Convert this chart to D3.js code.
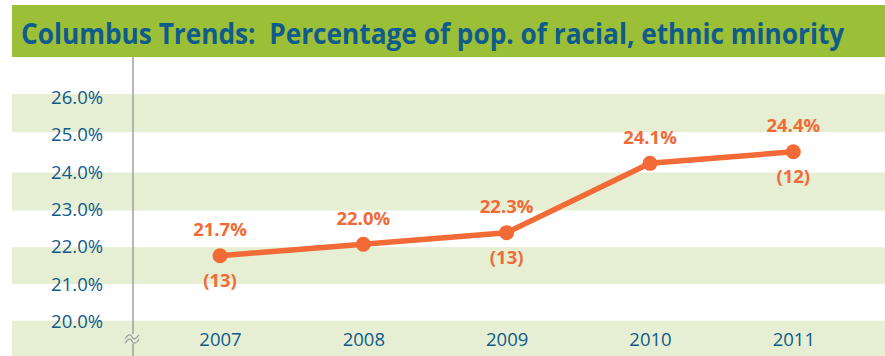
<!DOCTYPE html>
<html>
<head>
<meta charset="utf-8">
<script src="https://cdn.jsdelivr.net/npm/d3@7"></script>
<style>
  html, body { margin: 0; padding: 0; background: #ffffff; }
  svg { display: block; }
</style>
</head>
<body>
<svg id="chart" width="885" height="356"></svg>
<script>
// ---- data ----
const title = "Columbus Trends:\u00A0 Percentage of pop. of racial, ethnic minority";
const years = ["2007", "2008", "2009", "2010", "2011"];
const pct = [21.7, 22.0, 22.3, 24.1, 24.4];
const counts = [13, null, 13, null, 12];
const yTicks = [20, 21, 22, 23, 24, 25, 26];
const bandRanges = [[25.05, 26.07], [22.95, 23.97], [20.98, 21.97], [19.0, 20.0]];

// ---- styles ----
const W = 885, H = 356;
const green = "#9bbf36", bandFill = "#e6efd3", blue = "#0f5b8b", orange = "#f26a35", axisGray = "#9a9a9a";

const svg = d3.select("#chart");

// scales
const x = d3.scalePoint().domain(years).range([220, 793.3]);
const y = d3.scaleLinear().domain([20, 26]).range([321.2, 90.2]);      // data marks
const yAxisScale = d3.scaleLinear().domain([20, 26]).range([320.7, 96.7]); // axis labels & bands

// background bands
svg.append("g").selectAll("rect").data(bandRanges).join("rect")
  .attr("x", 12).attr("width", W - 12)
  .attr("y", d => yAxisScale(d[1]))
  .attr("height", d => Math.min(H, yAxisScale(d[0])) - yAxisScale(d[1]))
  .attr("fill", bandFill);

// title band
svg.append("rect").attr("x", 12).attr("y", 5).attr("width", W - 12).attr("height", 52).attr("fill", green);
const tt = svg.append("text")
  .attr("x", 0).attr("y", 0)
  .attr("font-family", "'Open Sans', sans-serif").attr("font-weight", 700)
  .attr("font-size", 28.5).attr("fill", blue)
  .text(title);
const natural = tt.node().getComputedTextLength();
const sx = Math.min(1, 824 / natural);
tt.attr("transform", `translate(21,43.5) scale(${sx},1)`);

// vertical axis line
svg.append("line").attr("x1", 133).attr("x2", 133).attr("y1", 57).attr("y2", H)
  .attr("stroke", axisGray).attr("stroke-width", 1.4);

// axis break symbol
const bx = 132, by = 339;
svg.append("rect").attr("x", bx - 3).attr("y", by - 5).attr("width", 6).attr("height", 10).attr("fill", bandFill);
[-2.2, 2.2].forEach(off => {
  svg.append("path")
    .attr("d", `M${bx - 7},${by + off + 2} C${bx - 4},${by + off - 3} ${bx - 1},${by + off - 3} ${bx},${by + off} S${bx + 4},${by + off + 3} ${bx + 7},${by + off - 2}`)
    .attr("fill", "none").attr("stroke", axisGray).attr("stroke-width", 1.2);
});

// y axis labels
const yAxis = d3.axisLeft(yAxisScale).tickValues(yTicks).tickSize(0).tickPadding(0)
  .tickFormat(d => d.toFixed(1) + "%");
const gy = svg.append("g").attr("transform", "translate(103,0)").call(yAxis);
gy.select(".domain").remove();
gy.selectAll("text")
  .attr("font-family", "'Open Sans', sans-serif").attr("font-size", 18.5)
  .attr("fill", blue).attr("dy", "0.36em");

// x axis labels
const xAxis = d3.axisBottom(x).tickSize(0).tickPadding(0);
const gx = svg.append("g").attr("transform", "translate(0,332.5)").call(xAxis);
gx.select(".domain").remove();
gx.selectAll("text")
  .attr("font-family", "'Open Sans', sans-serif").attr("font-size", 18.5)
  .attr("fill", blue).attr("dy", "0.71em");

// line
const pts = years.map((yr, i) => ({ yr, v: pct[i], n: counts[i] }));
svg.append("path").datum(pts)
  .attr("d", d3.line().x(d => x(d.yr)).y(d => y(d.v)))
  .attr("fill", "none").attr("stroke", orange).attr("stroke-width", 5.5)
  .attr("stroke-linejoin", "round");

svg.append("g").selectAll("circle").data(pts).join("circle")
  .attr("cx", d => x(d.yr)).attr("cy", d => y(d.v)).attr("r", 7.5).attr("fill", orange);

// value labels
svg.append("g").selectAll("text").data(pts).join("text")
  .attr("x", d => x(d.yr)).attr("y", d => y(d.v) - 19.5)
  .attr("text-anchor", "middle")
  .attr("font-family", "'Open Sans', sans-serif").attr("font-weight", 700).attr("font-size", 18.5)
  .attr("fill", orange)
  .text(d => d.v.toFixed(1) + "%");

svg.append("g").selectAll("text").data(pts.filter(d => d.n != null)).join("text")
  .attr("x", d => x(d.yr)).attr("y", d => y(d.v) + 31.5)
  .attr("text-anchor", "middle")
  .attr("font-family", "'Open Sans', sans-serif").attr("font-weight", 700).attr("font-size", 18.5)
  .attr("fill", orange)
  .text(d => "(" + d.n + ")");
</script>
</body>
</html>
